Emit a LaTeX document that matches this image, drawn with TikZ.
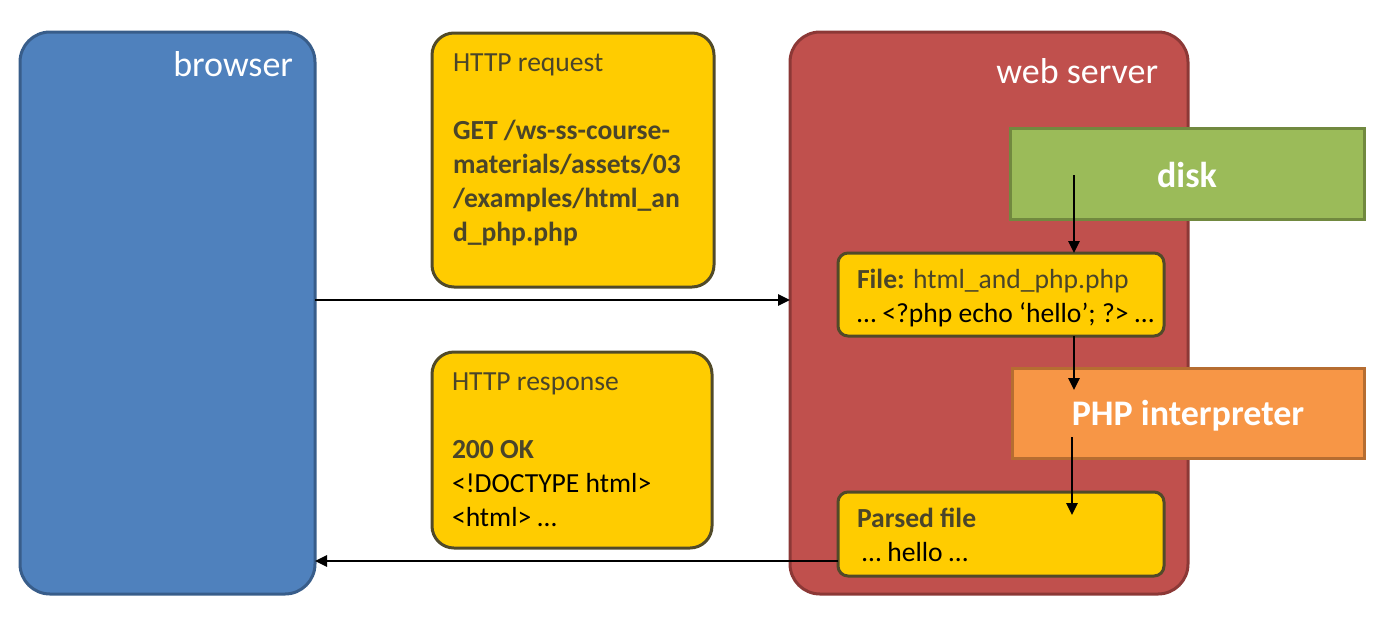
\documentclass[tikz,border=0pt]{standalone}
\usepackage{fontspec}
\setmainfont{Carlito}
\usetikzlibrary{arrows.meta}

\definecolor{browserblue}{HTML}{4F81BD}
\definecolor{browserline}{HTML}{385D8A}
\definecolor{serverred}{HTML}{C0504D}
\definecolor{serverline}{HTML}{8C3836}
\definecolor{msgyellow}{HTML}{FFCC00}
\definecolor{msgline}{HTML}{514A29}
\definecolor{msgtext}{HTML}{4A452A}
\definecolor{diskgreen}{HTML}{9BBB59}
\definecolor{diskline}{HTML}{71893F}
\definecolor{phporange}{HTML}{F79646}
\definecolor{phpline}{HTML}{B66D31}

\begin{document}
\begin{tikzpicture}[x=1pt, y=-1pt,
    every node/.style={inner sep=0pt, outer sep=0pt},
    panel/.style={draw, line width=3pt, rounded corners=30pt},
    msgbox/.style={draw=msgline, fill=msgyellow, line width=3pt, rounded corners=22pt},
    filebox/.style={msgbox, rounded corners=10pt},
    unit/.style={line width=3pt, font=\fontsize{36}{40}\selectfont\bfseries, text=white},
    title/.style={anchor=base east, font=\fontsize{36}{40}\selectfont, text=white},
    msgtxt/.style={anchor=base west, align=left, text=msgtext, font=\fontsize{27.6}{34}\selectfont},
    flow/.style={line width=2.6pt, -{Triangle[length=12pt, width=11pt]}}]
  \useasboundingbox (0,0) rectangle (1386,630);

  % browser and web server
  \node[panel, draw=browserline, fill=browserblue, minimum width=295pt, minimum height=562pt] (browser) at (167.5,313) {};
  \node[title] (browsertitle) at (293,76) {browser};
  \node[panel, draw=serverline, fill=serverred, minimum width=398pt, minimum height=562pt] (server) at (989,313) {};
  \node[title] (servertitle) at (1158,83) {web server};

  % messages (base = last line)
  \node[msgbox, minimum width=282pt, minimum height=254pt] (request) at (573,160) {};
  \node[msgtxt] (requesttext) at (453,241) {HTTP request\\[34pt]
    \textbf{GET /ws-ss-course-}\\\textbf{materials/assets/03}\\\textbf{/examples/html\_an}\\\textbf{d\_php.php}};
  \node[msgbox, minimum width=280pt, minimum height=196pt] (response) at (572,450) {};
  \node[msgtxt] (responsetext) at (452,526) {HTTP response\\[34pt]
    \textbf{200 OK}\\\textcolor{black}{<!DOCTYPE html>}\\\textcolor{black}{<html> …}};

  % inside the server
  \node[unit, draw=diskline, fill=diskgreen, minimum width=354pt, minimum height=91pt] (disk) at (1187,173.5) {};
  \node[unit, anchor=base] (disktext) at (1187,187) {disk};
  \node[filebox, minimum width=326pt, minimum height=83pt] (file) at (1001,294.5) {};
  \node[msgtxt] (filetext) at (857,322) {\textbf{File:} html\_and\_php.php\\
    \textcolor{black}{… <?php echo ‘hello’; ?> …}};
  \node[unit, draw=phpline, fill=phporange, minimum width=352pt, minimum height=90pt] (php) at (1188,413) {};
  \node[unit, anchor=base] (phptext) at (1188,425) {PHP interpreter};
  \node[filebox, minimum width=326pt, minimum height=84pt] (parsed) at (1001,534) {};
  \node[msgtxt] (parsedtext) at (857,561) {\textbf{Parsed file}\\
    \textcolor{black}{\hspace{5pt}… hello …}};

  % connectors
  \coordinate (requesty) at (0,300);
  \coordinate (responsey) at (0,561);
  \coordinate (diskout) at (1074,175);
  \coordinate (phpin) at (1074,390);
  \coordinate (phpout) at (1072,437);
  \coordinate (parsedin) at (1072,515);
  \draw[flow] (browser.east |- requesty) -- (server.west |- requesty);
  \draw[flow] (parsed.west |- responsey) -- (browser.east |- responsey);
  \draw[flow] (diskout) -- (diskout |- file.north);
  \draw[flow] (file.south -| phpin) -- (phpin);
  \draw[flow] (phpout) -- (parsedin);
\end{tikzpicture}
\end{document}
